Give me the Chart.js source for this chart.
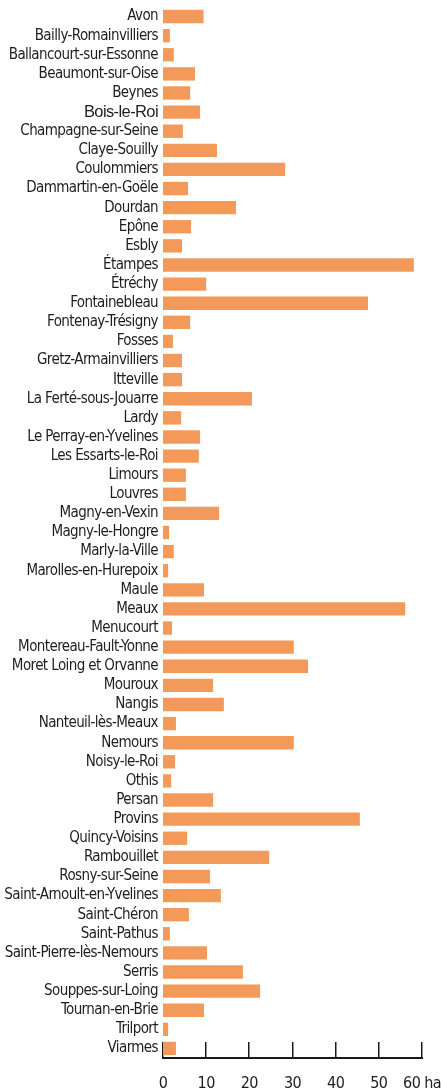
<!DOCTYPE html>
<html>
<head>
<meta charset="utf-8">
<script src="https://cdn.jsdelivr.net/npm/chart.js@4"></script>
<style>
  html, body { margin: 0; padding: 0; background: #fff; }
  #wrap { width: 441px; height: 1090px; }
</style>
</head>
<body>
<div id="wrap"><canvas id="chart" width="441" height="1090"></canvas></div>
<script>
const communes = ['Avon', 'Bailly-Romainvilliers', 'Ballancourt-sur-Essonne', 'Beaumont-sur-Oise', 'Beynes',
  'Bois-le-Roi', 'Champagne-sur-Seine', 'Claye-Souilly', 'Coulommiers', 'Dammartin-en-Goële',
  'Dourdan', 'Epône', 'Esbly', 'Étampes', 'Étréchy', 'Fontainebleau', 'Fontenay-Trésigny', 'Fosses',
  'Gretz-Armainvilliers', 'Itteville', 'La Ferté-sous-Jouarre', 'Lardy', 'Le Perray-en-Yvelines',
  'Les Essarts-le-Roi', 'Limours', 'Louvres', 'Magny-en-Vexin', 'Magny-le-Hongre', 'Marly-la-Ville',
  'Marolles-en-Hurepoix', 'Maule', 'Meaux', 'Menucourt', 'Montereau-Fault-Yonne', 'Moret Loing et Orvanne',
  'Mouroux', 'Nangis', 'Nanteuil-lès-Meaux', 'Nemours', 'Noisy-le-Roi', 'Othis', 'Persan', 'Provins',
  'Quincy-Voisins', 'Rambouillet', 'Rosny-sur-Seine', 'Saint-Arnoult-en-Yvelines', 'Saint-Chéron',
  'Saint-Pathus', 'Saint-Pierre-lès-Nemours', 'Serris', 'Souppes-sur-Loing', 'Tournan-en-Brie',
  'Trilport', 'Viarmes'];

// surface in hectares
const hectares = [9.4, 1.6, 2.5, 7.4, 6.3,
  8.6, 4.6, 12.5, 28.3, 5.8,
  16.9, 6.5, 4.4, 58.1, 10.0, 47.5, 6.3, 2.3,
  4.4, 4.4, 20.6, 4.2, 8.6,
  8.3, 5.3, 5.3, 13.0, 1.4, 2.5,
  1.2, 9.5, 56.1, 2.1, 30.3, 33.6,
  11.6, 14.1, 3.0, 30.3, 2.8, 1.9, 11.6, 45.6,
  5.6, 24.6, 10.9, 13.4, 6.0,
  1.6, 10.2, 18.5, 22.5, 9.5,
  1.2, 3.0];

const xTicks = [0, 10, 20, 30, 40, 50, 60];
const unit = 'ha';

const narrow = '"DejaVu Sans Condensed", "Liberation Sans Narrow", sans-serif';

// the original labels use a narrow face: tighten the letters a bit
const tightText = {
  id: 'tightText',
  beforeDraw(chart) { chart.ctx.letterSpacing = '-0.6px'; },
  afterDraw(chart) { chart.ctx.letterSpacing = '0px'; }
};

// short tick marks pointing up from the axis line
const upTicks = {
  id: 'upTicks',
  beforeDatasetsDraw(chart) {
    const { ctx, chartArea, scales: { x } } = chart;
    ctx.save();
    ctx.strokeStyle = '#1a1a1a';
    ctx.lineWidth = 1.5;
    xTicks.forEach(v => {
      const px = Math.round(x.getPixelForValue(v)) - 0.25;
      ctx.beginPath();
      ctx.moveTo(px, chartArea.bottom - 16);
      ctx.lineTo(px, chartArea.bottom);
      ctx.stroke();
    });
    ctx.restore();
  }
};

new Chart(document.getElementById('chart').getContext('2d'), {
  type: 'bar',
  data: {
    labels: communes,
    datasets: [{
      data: hectares,
      backgroundColor: '#f39a5a',
      borderWidth: 0,
      barPercentage: 0.7,
      categoryPercentage: 1
    }]
  },
  options: {
    indexAxis: 'y',
    responsive: false,
    animation: false,
    layout: { padding: { top: 7, right: 19, left: 0, bottom: 0 } },
    plugins: { legend: { display: false }, tooltip: { enabled: false } },
    scales: {
      y: {
        grid: { display: false, drawTicks: false },
        border: { display: false },
        afterFit(scale) {
          scale.width = 163;
          scale.paddingTop = 0;
          scale.paddingBottom = 0;
        },
        ticks: {
          padding: 5,
          autoSkip: false,
          color: '#1e1e1e',
          font: (c) => c.index === 5
            ? { family: '"Liberation Sans", Arial, sans-serif', size: 16.5 }
            : { family: narrow, size: 15 }
        }
      },
      x: {
        min: 0,
        max: 60,
        afterBuildTicks(scale) { scale.ticks = xTicks.map(v => ({ value: v })); },
        afterFit(scale) {
          scale.height = 32;
          scale.paddingLeft = 0;
          scale.paddingRight = 0;
        },
        grid: { display: false, drawTicks: false },
        border: { display: true, color: '#1a1a1a', width: 2 },
        ticks: {
          padding: 16,
          maxRotation: 0,
          minRotation: 0,
          autoSkip: false,
          color: '#1e1e1e',
          font: { family: narrow, size: 16 },
          callback: (v) => v === 60 ? v + ' ' + unit : String(v)
        }
      }
    }
  },
  plugins: [tightText, upTicks]
});
</script>
</body>
</html>
